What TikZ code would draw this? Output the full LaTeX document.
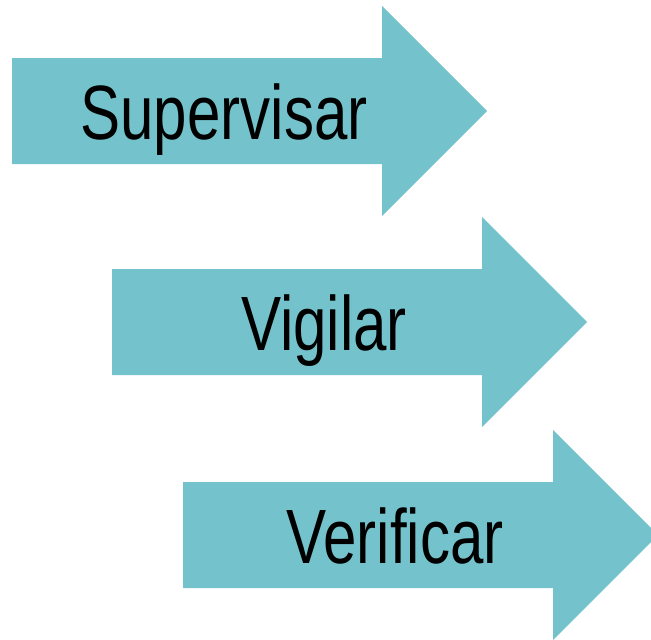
\documentclass[tikz,border=0pt]{standalone}
\usepackage{fontspec}
\setmainfont[FakeStretch=0.78]{Liberation Sans}
\definecolor{arrowteal}{HTML}{74C3CC}

\begin{document}
\begin{tikzpicture}[x=1pt, y=-1pt,
        arrowshape/.style={fill=arrowteal},
        arrowlabel/.style={anchor=base, inner sep=0pt, font=\fontsize{77}{80}\selectfont}]
    \useasboundingbox (0,0) rectangle (651,640);
    % three stacked arrows: left end, centre line, label
    \foreach \name/\lx/\cy/\txt in {sup/12/111/Supervisar, vig/112/322/Vigilar, ver/183/535/Verificar} {
        \fill[arrowshape] (\lx,\cy-53) -- ++(370,0) -- ++(0,-52) -- ++(105,105)
            -- ++(-105,105) -- ++(0,-52) -- ++(-370,0) -- cycle;
        \node[arrowlabel] (\name) at (\lx+212,\cy+28) {\txt};
    }
\end{tikzpicture}
\end{document}
